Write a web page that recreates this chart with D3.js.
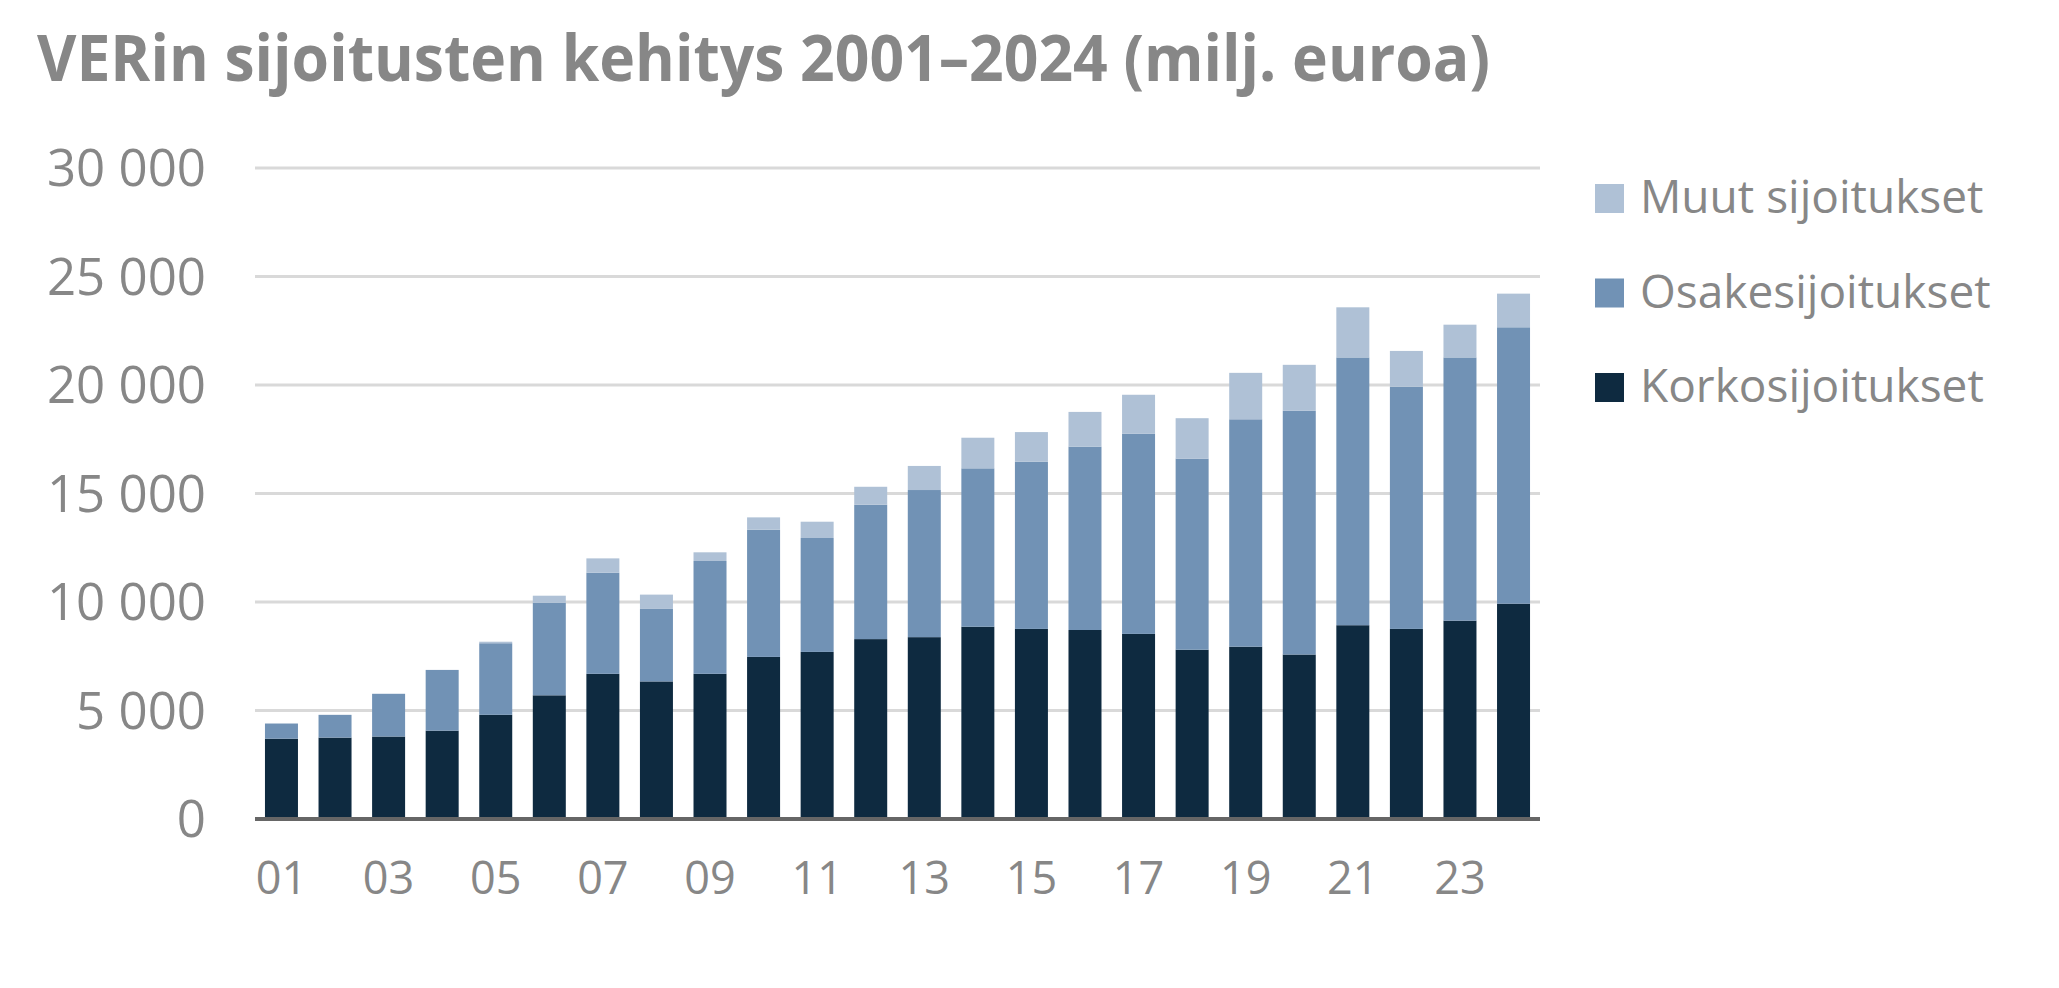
<!DOCTYPE html>
<html>
<head>
<meta charset="utf-8">
<script src="https://cdn.jsdelivr.net/npm/d3@7"></script>
<style>
  html, body { margin: 0; padding: 0; background: #fff; }
  svg { display: block; }
  text { font-family: "Open Sans", sans-serif; fill: #878787; }
</style>
</head>
<body>
<svg id="chart" width="2059" height="988"></svg>
<script>
// ---- data ----
const years = ["01","02","03","04","05","06","07","08","09","10","11","12","13","14","15","16","17","18","19","20","21","22","23","24"];
const korko = [3700,3750,3800,4070,4800,5700,6690,6340,6690,7470,7700,8290,8380,8860,8760,8710,8530,7800,7940,7580,8930,8760,9140,9920];
const osake = [700,1050,1970,2800,3300,4260,4660,3340,5200,5860,5250,6190,6780,7300,7700,8450,9230,8810,10480,11230,12340,11160,12130,12740];
const muut  = [0,0,0,0,70,330,660,660,400,570,750,830,1110,1410,1370,1600,1790,1860,2140,2120,2310,1650,1510,1550];
const seriesNames = ["Korkosijoitukset","Osakesijoitukset","Muut sijoitukset"];
const yTicks = [0,5000,10000,15000,20000,25000,30000];
const xTickLabels = ["01","03","05","07","09","11","13","15","17","19","21","23"];
const title = "VERin sijoitusten kehitys 2001\u20132024 (milj. euroa)";

// ---- layout ----
const colors = {"Korkosijoitukset":"#0e2a40","Osakesijoitukset":"#7192b5","Muut sijoitukset":"#afc1d6"};
const L = 255, R = 1540, T = 168, B = 819;

const svg = d3.select("#chart");

const table = years.map((y,i)=>({year:y,"Korkosijoitukset":korko[i],"Osakesijoitukset":osake[i],"Muut sijoitukset":muut[i]}));
const stacked = d3.stack().keys(seriesNames)(table);

const x = d3.scaleBand().domain(years).range([L,R]).paddingInner(0.384).paddingOuter(0.186);
const y = d3.scaleLinear().domain([0,30000]).range([B,T]);

const fmt = d3.formatLocale({decimal:",",thousands:" ",grouping:[3],currency:["","€"]}).format(",d");

// title
svg.append("text").attr("x",37).attr("y",81)
  .style("font-size","64px").style("font-weight","700")
  .attr("textLength",1453).attr("lengthAdjust","spacingAndGlyphs")
  .text(title);

// gridlines
svg.append("g").selectAll("line").data(yTicks.filter(d=>d>0)).join("line")
  .attr("x1",L).attr("x2",R).attr("y1",d=>y(d)).attr("y2",d=>y(d))
  .attr("stroke","#d9d9d9").attr("stroke-width",3);

// y axis labels
const yAxis = d3.axisLeft(y).tickValues(yTicks).tickFormat(fmt).tickSize(0).tickPadding(0);
const gy = svg.append("g").attr("transform",`translate(206,0)`).call(yAxis);
gy.select(".domain").remove();
gy.selectAll("text").style("font-size","51px").attr("fill","#878787").attr("dy","0.35em")
  .style("font-family","'Open Sans', sans-serif");

// bars
svg.append("g").selectAll("g").data(stacked).join("g")
  .attr("fill",d=>colors[d.key])
  .selectAll("rect").data(d=>d).join("rect")
  .attr("x",d=>x(d.data.year)).attr("width",x.bandwidth())
  .attr("y",d=>y(d[1])).attr("height",d=>y(d[0])-y(d[1]));

// baseline
svg.append("line").attr("x1",L).attr("x2",R).attr("y1",B).attr("y2",B)
  .attr("stroke","#666").attr("stroke-width",4);

// x axis labels
const xAxis = d3.axisBottom(x).tickValues(xTickLabels).tickSize(0).tickPadding(0);
const gx = svg.append("g").attr("transform",`translate(0,${B})`).call(xAxis);
gx.select(".domain").remove();
gx.selectAll("text").style("font-size","45px").attr("fill","#878787").attr("dy",null).attr("y",75)
  .style("font-family","'Open Sans', sans-serif");

// legend
const legendOrder = ["Muut sijoitukset","Osakesijoitukset","Korkosijoitukset"];
const lg = svg.append("g").selectAll("g").data(legendOrder).join("g")
  .attr("transform",(d,i)=>`translate(1595,${184 + i*94.5})`);
lg.append("rect").attr("width",29).attr("height",29).attr("fill",d=>colors[d]);
lg.append("text").attr("x",45).attr("y",29).style("font-size","46px").text(d=>d);
</script>
</body>
</html>
